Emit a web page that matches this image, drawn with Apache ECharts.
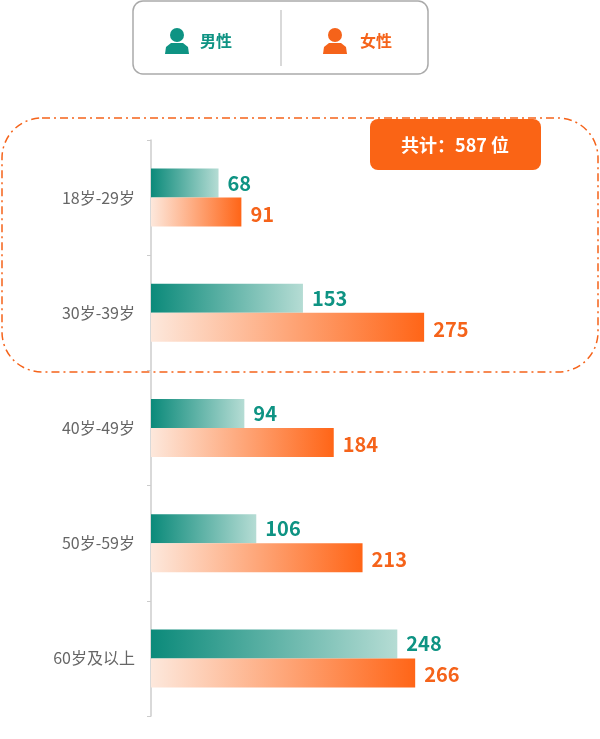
<!DOCTYPE html>
<html>
<head>
<meta charset="utf-8">
<script src="https://cdn.jsdelivr.net/npm/echarts@6/dist/echarts.min.js"></script>
<style>html,body{margin:0;padding:0;background:#fff}#main{width:600px;height:739px}</style>
</head>
<body>
<div id="main"></div>
<script>
var categories = ['18岁-29岁', '30岁-39岁', '40岁-49岁', '50岁-59岁', '60岁及以上'];
var maleValues = [68, 153, 94, 106, 248];
var femaleValues = [91, 275, 184, 213, 266];
var totalText = '共计：587 位';

var TEAL = '#0e9383', ORANGE = '#f5631a';
var FONT = '"Noto Sans CJK SC", "Noto Sans", sans-serif';

//人物图标
function person(x, y, color) {
	return [{
		type: 'circle', shape: { cx: x, cy: y - 6, r: 7 },
		style: { fill: color }
	}, {
		type: 'polygon',
		shape: { points: [[x - 12, y + 13], [x - 11, y + 6], [x - 6, y + 2], [x + 6, y + 2], [x + 11, y + 6], [x + 12, y + 13]] },
		style: { fill: color }
	}];
}

var graphics = [{
	type: 'rect', shape: { x: 133, y: 1, width: 295, height: 73, r: 10 },
	style: { fill: '#fff', stroke: '#aaa', lineWidth: 1.5 }
}, {
	type: 'line', shape: { x1: 281, y1: 10, x2: 281, y2: 66 },
	style: { stroke: '#ccc', lineWidth: 1.5 }
}, {
	type: 'text', x: 200, y: 41,
	style: { text: '男性', fill: TEAL, font: 'bold 16px ' + FONT, textVerticalAlign: 'middle' }
}, {
	type: 'text', x: 360, y: 41,
	style: { text: '女性', fill: ORANGE, font: 'bold 16px ' + FONT, textVerticalAlign: 'middle' }
}, {
	type: 'rect', shape: { x: 2, y: 118, width: 596, height: 254, r: 40 },
	style: { fill: 'none', stroke: ORANGE, lineWidth: 1.5, lineDash: [8, 4, 2, 4] }
}, {
	type: 'rect', shape: { x: 370, y: 119, width: 171, height: 51, r: 8 },
	style: { fill: '#fa6415' }
}, {
	type: 'text', x: 455, y: 145,
	style: { text: totalText, fill: '#fff', font: 'bold 18px ' + FONT, textAlign: 'center', textVerticalAlign: 'middle' }
}];
graphics = graphics.concat(person(177, 41, TEAL), person(335, 41, ORANGE));

var chart = echarts.init(document.getElementById('main'));
chart.setOption({
	animation: false,
	grid: { left: 151, right: 12, top: 140, bottom: 23 },
	xAxis: { type: 'value', min: 0, max: 440, show: false },
	yAxis: {
		type: 'category', data: categories, inverse: true,
		axisLine: { lineStyle: { color: '#ccc', width: 1.5 } },
		axisTick: { show: true, length: 4, lineStyle: { color: '#ccc' } },
		axisLabel: { color: '#666', fontSize: 16, fontFamily: FONT, margin: 16 }
	},
	series: [{
		type: 'bar', data: maleValues, barWidth: 29, barGap: '0%',
		itemStyle: { color: new echarts.graphic.LinearGradient(0, 0, 1, 0, [{ offset: 0, color: '#0b8a7a' }, { offset: 1, color: '#b5dcd4' }]) },
		label: { show: true, position: 'right', distance: 9, color: TEAL, fontSize: 20, fontWeight: 'bold', fontFamily: FONT, offset: [0, 0] }
	}, {
		type: 'bar', data: femaleValues, barWidth: 29,
		itemStyle: { color: new echarts.graphic.LinearGradient(0, 0, 1, 0, [{ offset: 0, color: '#fde8dc' }, { offset: 1, color: '#ff6517' }]) },
		label: { show: true, position: 'right', distance: 9, color: ORANGE, fontSize: 20, fontWeight: 'bold', fontFamily: FONT, offset: [0, 2] }
	}],
	graphic: graphics
});
</script>
</body>
</html>
